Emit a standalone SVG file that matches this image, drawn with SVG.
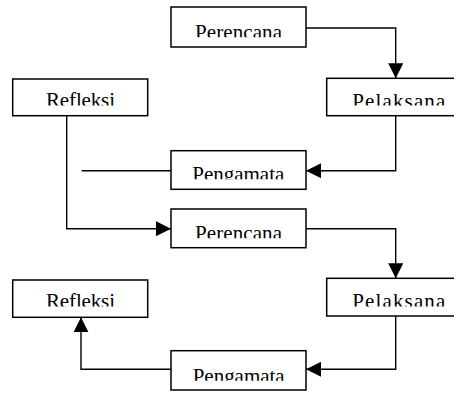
<svg xmlns="http://www.w3.org/2000/svg" width="454" height="394" viewBox="0 0 454 394">
<style>
.box{fill:#fff;stroke:#000;stroke-width:1.5}
.lbl{font-family:"Liberation Serif","Times New Roman",serif;font-size:21px;fill:#000}
.con{fill:none;stroke:#000;stroke-width:1.4}
</style>
<defs>
<marker id="ah" markerUnits="userSpaceOnUse" markerWidth="15" markerHeight="15" refX="15" refY="7.5" orient="auto">
<path d="M0,0 L15,7.5 L0,15 z" fill="#000"/>
</marker>
<clipPath id="c1"><rect x="0" y="0" width="454" height="37.3"/></clipPath>
<clipPath id="c2"><rect x="0" y="0" width="454" height="105.5"/></clipPath>
<clipPath id="c3"><rect x="0" y="0" width="454" height="179.3"/></clipPath>
<clipPath id="c4"><rect x="0" y="0" width="454" height="238.3"/></clipPath>
<clipPath id="c5"><rect x="0" y="0" width="454" height="306.5"/></clipPath>
<clipPath id="c6"><rect x="0" y="0" width="454" height="380.7"/></clipPath>
</defs>
<g id="connectors">
<path class="con" d="M306,28 H395.7 V78.3" marker-end="url(#ah)"/>
<path class="con" d="M395.7,116 V170.7 H306" marker-end="url(#ah)"/>
<path class="con" d="M171,170.7 H81.7"/>
<path class="con" d="M66.7,116 V228.7 H171" marker-end="url(#ah)"/>
<path class="con" d="M306,228.7 H395.7 V278.3" marker-end="url(#ah)"/>
<path class="con" d="M395.7,316 V369.3 H306" marker-end="url(#ah)"/>
<path class="con" d="M171,369.3 H81 V317.3" marker-end="url(#ah)"/>
</g>
<g id="perencana1">
<rect class="box" x="171" y="7" width="135" height="40"/>
<text class="lbl" x="195" y="38.9" textLength="87" lengthAdjust="spacing" clip-path="url(#c1)">Perencana</text>
</g>
<g id="pelaksana1">
<rect class="box" x="326.7" y="78.3" width="150" height="37.4"/>
<text class="lbl" x="352.3" y="107.6" textLength="93" lengthAdjust="spacing" clip-path="url(#c2)">Pelaksana</text>
</g>
<g id="refleksi1">
<rect class="box" x="12.7" y="79" width="135" height="36.7"/>
<text class="lbl" x="46" y="107.2" textLength="69" lengthAdjust="spacing" clip-path="url(#c2)">Refleksi</text>
</g>
<g id="pengamata1">
<rect class="box" x="171" y="150.7" width="135" height="38.6"/>
<text class="lbl" x="192.3" y="181.2" textLength="92" lengthAdjust="spacing" clip-path="url(#c3)">Pengamata</text>
</g>
<g id="perencana2">
<rect class="box" x="171" y="209" width="135" height="38.7"/>
<text class="lbl" x="195" y="240.1" textLength="87" lengthAdjust="spacing" clip-path="url(#c4)">Perencana</text>
</g>
<g id="refleksi2">
<rect class="box" x="12.7" y="280" width="135" height="37.3"/>
<text class="lbl" x="46" y="308.4" textLength="69" lengthAdjust="spacing" clip-path="url(#c5)">Refleksi</text>
</g>
<g id="pelaksana2">
<rect class="box" x="326.7" y="278.3" width="150" height="37.7"/>
<text class="lbl" x="352.3" y="308" textLength="93" lengthAdjust="spacing" clip-path="url(#c5)">Pelaksana</text>
</g>
<g id="pengamata2">
<rect class="box" x="171" y="350.7" width="135" height="39.3"/>
<text class="lbl" x="192.7" y="382.5" textLength="92" lengthAdjust="spacing" clip-path="url(#c6)">Pengamata</text>
</g>
</svg>
